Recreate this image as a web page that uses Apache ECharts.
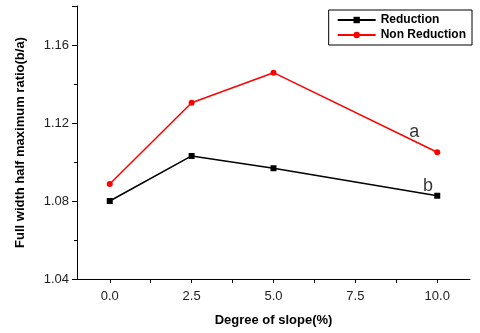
<!DOCTYPE html>
<html><head><meta charset="utf-8">
<script src="https://cdn.jsdelivr.net/npm/echarts@6/dist/echarts.min.js"></script>
<style>html,body{margin:0;padding:0;background:#fff}#c{width:480px;height:333px}</style>
</head><body><div id="c"></div>
<script>
const slope = [0, 2.5, 5.0, 10.0];
const reduction = [1.080, 1.1031, 1.0968, 1.0827];
const nonReduction = [1.0887, 1.1304, 1.1458, 1.105];
const xTickLabels = [0, 2.5, 5, 7.5, 10];
const xMinorTicks = [1.25, 3.75, 6.25, 8.75];
const seriesNames = ['Reduction', 'Non Reduction'];
const curveLabels = ['b', 'a'];
const curveLabelX = [9.72, 9.3];
const curveLabelY = [1.0877, 1.1154];

const font = 'Arial, "Liberation Sans", sans-serif';
const chart = echarts.init(document.getElementById('c'));
function pairs(xs, ys){ return xs.map((x,i)=>[x, ys[i]]); }
chart.setOption({
  animation: false,
  grid: {left: 77, right: 10, top: 6, bottom: 54},
  legend: {
    right: 8, top: 10, orient: 'vertical', itemGap: 3,
    padding: [4, 6, 4, 8],
    borderColor: '#000', borderWidth: 1,
    itemWidth: 38, itemHeight: 8,
    textStyle: {fontFamily: font, fontWeight: 'bold', fontSize: 12, color: '#000'},
    data: seriesNames
  },
  xAxis: {
    type: 'value', min: -1, max: 11,
    name: 'Degree of slope(%)', nameLocation: 'middle', nameGap: 35,
    nameTextStyle: {fontFamily: font, fontWeight: 'bold', fontSize: 13, color: '#000'},
    axisLine: {show: true, onZero: false, lineStyle: {color: '#000', width: 1}},
    axisTick: {show: true, length: 4, customValues: xTickLabels.concat(xMinorTicks), lineStyle: {color: '#000'}},
    axisLabel: {customValues: xTickLabels, formatter: v => v.toFixed(1), fontFamily: font, fontSize: 13, color: '#222', margin: 11},
    splitLine: {show: false}
  },
  yAxis: {
    type: 'value', min: 1.04, max: 1.18, interval: 0.04,
    name: 'Full width half maximum ratio(b/a)', nameLocation: 'middle', nameGap: 50,
    nameTextStyle: {fontFamily: font, fontWeight: 'bold', fontSize: 13, color: '#000'},
    axisLine: {show: true, onZero: false, lineStyle: {color: '#000', width: 1}},
    axisTick: {show: true, length: 5, lineStyle: {color: '#000'}},
    minorTick: {show: true, splitNumber: 2, length: 3, lineStyle: {color: '#000'}},
    axisLabel: {showMaxLabel: false, formatter: v => v.toFixed(2), fontFamily: font, fontSize: 13, color: '#222', margin: 8},
    splitLine: {show: false}
  },
  series: [
    {
      name: seriesNames[0], type: 'line', data: pairs(slope, reduction),
      symbol: 'rect', symbolSize: 6,
      itemStyle: {color: '#000'}, lineStyle: {color: '#000', width: 1.5}
    },
    {
      name: seriesNames[1], type: 'line', data: pairs(slope, nonReduction),
      symbol: 'circle', symbolSize: 6,
      itemStyle: {color: '#ff0000'}, lineStyle: {color: '#ff0000', width: 1.5}
    },
    {
      name: 'labels', type: 'scatter', silent: true,
      data: curveLabels.map((t, i) => ({value: [curveLabelX[i], curveLabelY[i]], name: t})),
      symbol: 'circle', symbolSize: 1,
      itemStyle: {color: 'rgba(0,0,0,0)'},
      label: {show: true, position: 'inside', formatter: p => p.name, fontFamily: font, fontSize: 18, color: '#000'}
    }
  ]
});
</script></body></html>
